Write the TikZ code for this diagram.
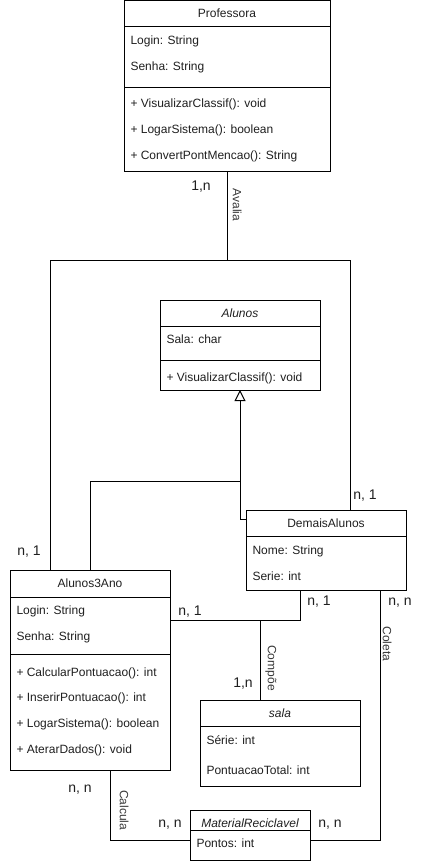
\documentclass[tikz,border=0pt]{standalone}
\usepackage{fontspec}
\setmainfont{Liberation Sans}
\usetikzlibrary{arrows.meta}
\begin{document}
\begin{tikzpicture}[x=1pt,y=-1pt,
  line width=1pt,
  every node/.style={text=black!88},
  classbox/.style={draw=black, line width=1pt, inner sep=0pt, outer sep=0pt, anchor=north west},
  txt/.style={inner sep=0pt, text height=8.6pt, text depth=0pt, font=\fontsize{12}{14}\selectfont},
  title/.style={txt, anchor=center},
  ititle/.style={txt, anchor=center, font=\fontsize{12}{14}\selectfont\itshape},
  attr/.style={txt, anchor=west},
  mult/.style={inner sep=0pt, text height=10pt, text depth=0pt, anchor=center, font=\fontsize{14}{16}\selectfont},
  role/.style={inner sep=0pt, text height=8.5pt, text depth=0pt, anchor=center, rotate=-90, text=black!78, font=\fontsize{12}{14}\selectfont},
  gen/.style={-{Triangle[open,length=11pt,width=11pt]}},
  sep/.style={draw=black, line width=1pt}
]
\useasboundingbox (0,0) rectangle (430,861);

% ---------- Professora ----------
\node[classbox, minimum width=206pt, minimum height=171pt] (prof) at (124,0.5) {};
\draw[sep] ([yshift=-26pt]prof.north west) -- ([yshift=-26pt]prof.north east);
\draw[sep] ([yshift=-87pt]prof.north west) -- ([yshift=-87pt]prof.north east);
\node[title] (prof-t) at (227,13) {Professora};
\node[attr] (prof-a1) at (130,40) {Login: String};
\node[attr] (prof-a2) at (130,66) {Senha: String};
\node[attr] (prof-m1) at (130,103) {+ VisualizarClassif(): void};
\node[attr] (prof-m2) at (130,129) {+ LogarSistema(): boolean};
\node[attr] (prof-m3) at (130,155) {+ ConvertPontMencao(): String};

% ---------- Alunos (abstract) ----------
\node[classbox, minimum width=160pt, minimum height=90pt] (alunos) at (160,300) {};
\draw[sep] ([yshift=-26pt]alunos.north west) -- ([yshift=-26pt]alunos.north east);
\draw[sep] ([yshift=-60pt]alunos.north west) -- ([yshift=-60pt]alunos.north east);
\node[ititle] (alunos-t) at (240,313) {Alunos};
\node[attr] (alunos-a1) at (166,339) {Sala: char};
\node[attr] (alunos-m1) at (166,377) {+ VisualizarClassif(): void};

% ---------- DemaisAlunos ----------
\node[classbox, minimum width=160pt, minimum height=80pt] (dem) at (246,510) {};
\draw[sep] ([yshift=-26pt]dem.north west) -- ([yshift=-26pt]dem.north east);
\node[title] (dem-t) at (326,523) {DemaisAlunos};
\node[attr] (dem-a1) at (252,550) {Nome: String};
\node[attr] (dem-a2) at (252,576) {Serie: int};

% ---------- Alunos3Ano ----------
\node[classbox, minimum width=160pt, minimum height=200pt] (a3) at (10,570) {};
\draw[sep] ([yshift=-27pt]a3.north west) -- ([yshift=-27pt]a3.north east);
\draw[sep] ([yshift=-84pt]a3.north west) -- ([yshift=-84pt]a3.north east);
\node[title] (a3-t) at (90,583) {Alunos3Ano};
\node[attr] (a3-a1) at (16,610) {Login: String};
\node[attr] (a3-a2) at (16,636) {Senha: String};
\node[attr] (a3-m1) at (16,672) {+ CalcularPontuacao(): int};
\node[attr] (a3-m2) at (16,697) {+ InserirPontuacao(): int};
\node[attr] (a3-m3) at (16,723) {+ LogarSistema(): boolean};
\node[attr] (a3-m4) at (16,749) {+ AterarDados(): void};

% ---------- sala ----------
\node[classbox, minimum width=160pt, minimum height=86pt] (sala) at (200,700) {};
\draw[sep] ([yshift=-26pt]sala.north west) -- ([yshift=-26pt]sala.north east);
\node[ititle] (sala-t) at (280,713) {sala};
\node[attr] (sala-a1) at (206,740) {Série: int};
\node[attr] (sala-a2) at (206,770) {PontuacaoTotal: int};

% ---------- MaterialReciclavel ----------
\node[classbox, minimum width=120pt, minimum height=50pt] (mat) at (190,810) {};
\draw[sep] ([yshift=-20pt]mat.north west) -- ([yshift=-20pt]mat.north east);
\node[ititle] (mat-t) at (250,823) {MaterialReciclavel};
\node[attr] (mat-a1) at (196,843) {Pontos: int};

% ---------- Avalia ----------
\coordinate (avj) at (227,260);
\draw (prof.south) -- (avj) -| ([xshift=40pt]a3.north west);
\draw (avj) -| ([xshift=104pt]dem.north west);
\node[mult] (m-prof) at (201,185) {1,n};
\node[role] (r-avalia) at (237,205) {Avalia};
\node[mult] (m-dem1) at (365,494) {n, 1};
\node[mult] (m-a31) at (29,550) {n, 1};

% ---------- Generalization ----------
\coordinate (gj) at (240,481);
\draw[gen] (a3.north) |- (gj) -- (alunos.south);
\draw ([yshift=-9pt]dem.north west) -| (gj);

% ---------- Alunos3Ano -- DemaisAlunos, Compoe ----------
\draw ([yshift=-50pt]a3.north east) -| ([xshift=54pt]dem.south west);
\coordinate (cj) at (260,620);
\draw (cj) -- ([xshift=60pt]sala.north west);
\node[mult] (m-a3d) at (190,610) {n, 1};
\node[mult] (m-da3) at (319,600) {n, 1};
\node[mult] (m-sala) at (243,682) {1,n};
\node[role] (r-compoe) at (272,668) {Compõe};

% ---------- Coleta ----------
\draw ([xshift=134pt]dem.south west) |- ([yshift=-30pt]mat.north east);
\node[mult] (m-demc) at (400,600) {n, n};
\node[role] (r-coleta) at (387,644) {Coleta};
\node[mult] (m-matc) at (330,822) {n, n};

% ---------- Calcula ----------
\draw ([xshift=100pt]a3.south west) |- ([yshift=-30pt]mat.north west);
\node[mult] (m-a3c) at (80,787) {n, n};
\node[role] (r-calcula) at (124,810) {Calcula};
\node[mult] (m-matl) at (170,822) {n, n};
\end{tikzpicture}
\end{document}
